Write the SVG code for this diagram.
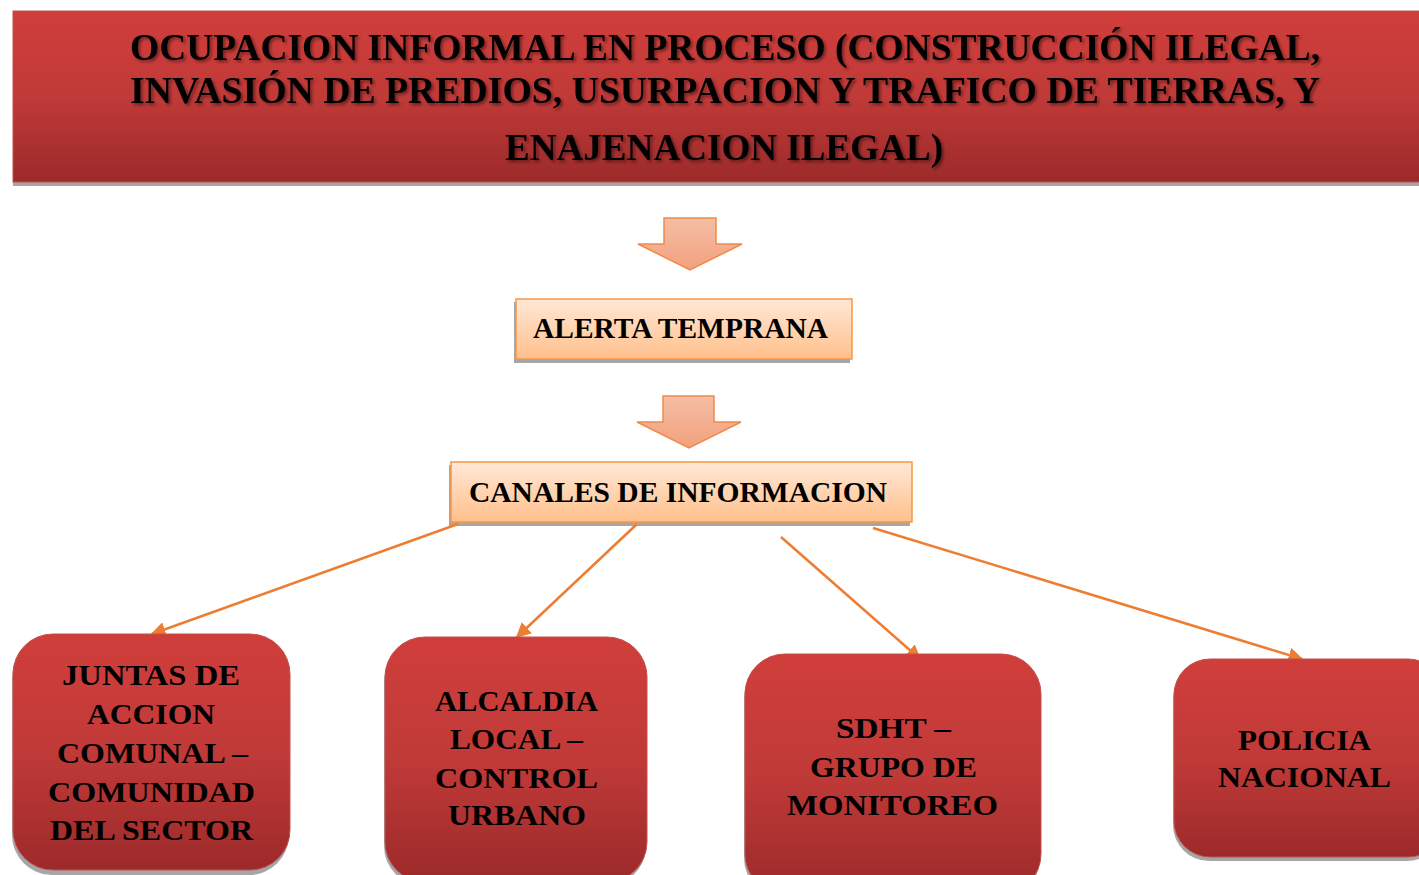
<svg xmlns="http://www.w3.org/2000/svg" width="1419" height="875" viewBox="0 0 1419 875">
<style>
.t{font-family:"Liberation Serif","Times New Roman",serif;font-weight:bold;fill:#000;}
.title{font-size:38px;}
.lbl{font-size:29px;}
.node{fill:url(#redG);stroke:#C0504D;stroke-width:1;}
.shadow{fill:#A6A6A6;}
.obox{fill:url(#orgG);stroke:#F79646;stroke-width:1.5;}
.barrow{fill:url(#arrG);stroke:#F08A4B;stroke-width:1.5;}
.conn{stroke:#ED7D31;stroke-width:2.5;fill:none;marker-end:url(#ah);}
</style>
<defs>
<linearGradient id="redG" x1="0" y1="0" x2="0" y2="1">
<stop offset="0" stop-color="#D03E3B"/>
<stop offset="0.5" stop-color="#C03A38"/>
<stop offset="1" stop-color="#9C2A2A"/>
</linearGradient>
<linearGradient id="orgG" x1="0" y1="0" x2="0" y2="1">
<stop offset="0" stop-color="#FFE8D6"/>
<stop offset="1" stop-color="#FFC08C"/>
</linearGradient>
<linearGradient id="arrG" x1="0" y1="0" x2="0" y2="1">
<stop offset="0" stop-color="#F5BEA4"/>
<stop offset="1" stop-color="#F2A17E"/>
</linearGradient>
<filter id="ts" x="-5%" y="-30%" width="110%" height="160%">
<feDropShadow dx="2" dy="2" stdDeviation="1.5" flood-color="#000" flood-opacity="0.45"/>
</filter>
<marker id="ah" viewBox="0 0 10 10" refX="9" refY="5" markerWidth="6" markerHeight="6" orient="auto" markerUnits="strokeWidth">
<path d="M0,0 L10,5 L0,10 z" fill="#ED7D31"/>
</marker>
</defs>

<g id="title">
<rect class="shadow" x="13" y="15" width="1420" height="171"/>
<rect x="13" y="11" width="1420" height="171" fill="url(#redG)" stroke="#C0504D" stroke-width="1"/>
<g filter="url(#ts)">
<text class="t title" x="130" y="60" textLength="1190" lengthAdjust="spacingAndGlyphs">OCUPACION INFORMAL EN PROCESO (CONSTRUCCIÓN ILEGAL,</text>
<text class="t title" x="130" y="103" textLength="1190" lengthAdjust="spacingAndGlyphs">INVASIÓN DE PREDIOS, USURPACION Y TRAFICO DE TIERRAS, Y</text>
<text class="t title" x="505" y="160" textLength="438" lengthAdjust="spacingAndGlyphs">ENAJENACION ILEGAL)</text>
</g>
</g>

<g id="arrow1">
<path class="barrow" d="M664,218 L716,218 L716,244 L742,244 L690,270 L638,244 L664,244 Z"/>
</g>

<g id="alerta">
<rect class="shadow" x="514" y="302" width="336" height="61"/>
<rect class="obox" x="516" y="299" width="336" height="60"/>
<text class="t lbl" x="533" y="338" textLength="295" lengthAdjust="spacingAndGlyphs">ALERTA TEMPRANA</text>
</g>

<g id="arrow2">
<path class="barrow" d="M663,396 L714,396 L714,422 L741,422 L689,448 L637,422 L663,422 Z"/>
</g>

<g id="canales">
<rect class="shadow" x="449" y="465" width="461" height="61"/>
<rect class="obox" x="451" y="462" width="461" height="60"/>
<text class="t lbl" x="469" y="502" textLength="418" lengthAdjust="spacingAndGlyphs">CANALES DE INFORMACION</text>
</g>

<g id="connectors">
<line class="conn" x1="458" y1="524" x2="152" y2="634"/>
<line class="conn" x1="637" y1="524" x2="517" y2="637"/>
<line class="conn" x1="781" y1="537" x2="920" y2="659"/>
<line class="conn" x1="873" y1="528" x2="1302" y2="659"/>
</g>

<g id="juntas">
<rect class="shadow" x="12" y="638" width="277" height="237" rx="40"/>
<rect class="node" x="13" y="634" width="277" height="236" rx="40"/>
<text class="t lbl" x="62" y="685" textLength="178" lengthAdjust="spacingAndGlyphs">JUNTAS DE</text>
<text class="t lbl" x="87" y="724" textLength="128" lengthAdjust="spacingAndGlyphs">ACCION</text>
<text class="t lbl" x="57" y="763" textLength="191" lengthAdjust="spacingAndGlyphs">COMUNAL –</text>
<text class="t lbl" x="48" y="802" textLength="207" lengthAdjust="spacingAndGlyphs">COMUNIDAD</text>
<text class="t lbl" x="50" y="840" textLength="203" lengthAdjust="spacingAndGlyphs">DEL SECTOR</text>
</g>

<g id="alcaldia">
<rect class="shadow" x="384" y="641" width="262" height="245" rx="40"/>
<rect class="node" x="385" y="637" width="262" height="245" rx="40"/>
<text class="t lbl" x="435" y="711" textLength="163" lengthAdjust="spacingAndGlyphs">ALCALDIA</text>
<text class="t lbl" x="450" y="749" textLength="133" lengthAdjust="spacingAndGlyphs">LOCAL –</text>
<text class="t lbl" x="435" y="788" textLength="163" lengthAdjust="spacingAndGlyphs">CONTROL</text>
<text class="t lbl" x="448" y="825" textLength="138" lengthAdjust="spacingAndGlyphs">URBANO</text>
</g>

<g id="sdht">
<rect class="shadow" x="744" y="658" width="296" height="240" rx="40"/>
<rect class="node" x="745" y="654" width="296" height="240" rx="40"/>
<text class="t lbl" x="836" y="738" textLength="115" lengthAdjust="spacingAndGlyphs">SDHT –</text>
<text class="t lbl" x="810" y="777" textLength="167" lengthAdjust="spacingAndGlyphs">GRUPO DE</text>
<text class="t lbl" x="787" y="815" textLength="211" lengthAdjust="spacingAndGlyphs">MONITOREO</text>
</g>

<g id="policia">
<rect class="shadow" x="1173" y="663" width="270" height="198" rx="36"/>
<rect class="node" x="1174" y="659" width="270" height="198" rx="36"/>
<text class="t lbl" x="1238" y="750" textLength="133" lengthAdjust="spacingAndGlyphs">POLICIA</text>
<text class="t lbl" x="1218" y="787" textLength="173" lengthAdjust="spacingAndGlyphs">NACIONAL</text>
</g>
</svg>
